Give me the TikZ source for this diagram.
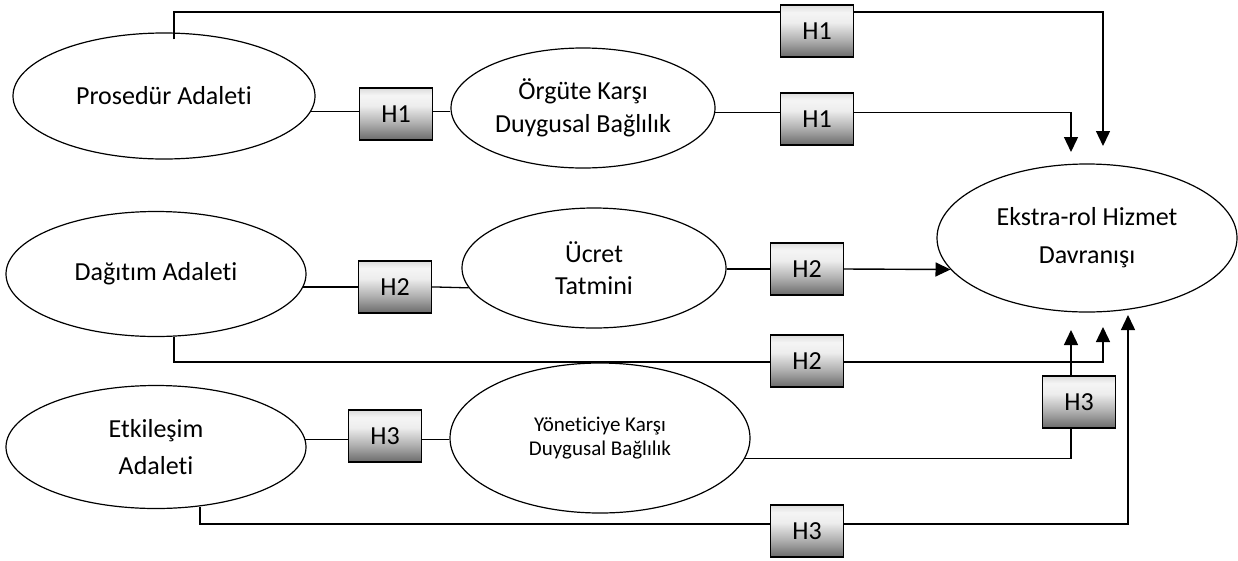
\documentclass[tikz,border=0pt]{standalone}
\usepackage{fontspec}
\setmainfont{Carlito}[Ligatures=NoCommon]
\usetikzlibrary{shapes.geometric,arrows.meta}
\pgfdeclareverticalshading{hshade}{100bp}{color(0bp)=(black!58); color(25bp)=(black!58); color(42bp)=(black!30); color(58bp)=(black!7); color(68bp)=(black!4); color(75bp)=(black!14); color(100bp)=(black!14)}
\begin{document}
\begin{tikzpicture}[x=1pt,y=-1pt,
  ell/.style={draw, ellipse, line width=1.2pt, inner sep=0pt, align=center, font=\fontsize{26}{33}\selectfont},
  hbox/.style={draw, line width=1.4pt, minimum width=73pt, minimum height=52pt, inner sep=0pt,
    shading=hshade, font=\fontsize{26}{30}\selectfont},
  conn/.style={line width=1.3pt},
  arr/.style={line width=1.4pt, -{Triangle[width=14pt,length=15pt]}}
]
\useasboundingbox (0,0) rectangle (1238,560);

% ellipses
\node[ell, minimum width=302pt, minimum height=126pt] (pros) at (164,96) {Prosedür Adaleti};
\node[ell, minimum width=264pt, minimum height=120pt] (org) at (583,108) {Örgüte Karşı\\Duygusal Bağlılık};
\node[ell, minimum width=300pt, minimum height=125pt] (dag) at (156,274) {Dağıtım Adaleti};
\node[ell, minimum width=264pt, minimum height=120pt, font=\fontsize{26}{32}\selectfont] (ucr) at (594,268) {Ücret\\Tatmini};
\node[ell, minimum width=300pt, minimum height=123pt, font=\fontsize{26}{37}\selectfont] (etk) at (156,447) {Etkileşim\\Adaleti};
\node[ell, minimum width=300pt, minimum height=150pt, font=\fontsize{21}{24}\selectfont] (yon) at (600,438) {Yöneticiye Karşı\\Duygusal Bağlılık};
\node[ell, minimum width=300pt, minimum height=148pt, font=\fontsize{26}{38}\selectfont] (eks) at (1087,238) {Ekstra-rol Hizmet\\Davranışı};

% boxes
\node[hbox] (h1a) at (817,31) {H1};
\node[hbox] (h1b) at (396,114) {H1};
\node[hbox] (h1c) at (817,119) {H1};
\node[hbox] (h2a) at (395,287) {H2};
\node[hbox] (h2b) at (807,269) {H2};
\node[hbox] (h2c) at (807,361) {H2};
\node[hbox] (h3a) at (385,436) {H3};
\node[hbox] (h3b) at (1079,402) {H3};
\node[hbox] (h3c) at (807,531) {H3};

% corner coordinates
\coordinate (a1) at (174,12);
\coordinate (a2) at (1103,12);
\coordinate (a3) at (1103,146);
\coordinate (b2) at (1071,152);
\coordinate (c1) at (174,362);
\coordinate (c2) at (1103,362);
\coordinate (c3) at (1103,327);
\coordinate (d1) at (1071,458);
\coordinate (d2) at (1071,330);
\coordinate (e1) at (200,524);
\coordinate (e2) at (1128,524);
\coordinate (e3) at (1128,315);

% top H1 path
\draw[conn] ([xshift=10pt,yshift=-7pt]pros.north) -- (a1) -- (h1a.west |- a1);
\draw[arr] (h1a.east |- a1) -- (a2) -- (a3);

% row 1
\draw[conn] (pros.-6) -- (h1b.west |- pros.-6);
\draw[conn] (h1b.east |- pros.-6) -- (org.west |- pros.-6);
\draw[conn] (org.-2) -- (h1c.west |- org.-2);
\draw[arr] (h1c.east |- org.-2) -| (b2);

% row 2
\draw[conn] (dag.-5) -- (h2a.west |- dag.-5);
\draw[conn] (h2a.east |- dag.-5) -- (ucr.189);
\draw[conn] (ucr.east |- h2b.west) -- (h2b.west);
\draw[arr] (h2b.east) -- (eks.193);
\draw[conn] ([xshift=18pt]dag.south) -- (c1) -- (h2c.west |- c1);
\draw[arr] (h2c.east |- c1) -- (c2) -- (c3);

% row 3
\draw[conn] (etk.3) -- (h3a.west |- etk.3);
\draw[conn] (h3a.east |- etk.3) -- (yon.west |- etk.3);
\draw[conn] (yon.-8) -- (d1 |- yon.-8) -- (h3b.south -| d1);
\draw[arr] (h3b.north -| d1) -- (d2);
\draw[conn] ([xshift=44pt,yshift=2pt]etk.south) -- (e1) -- (h3c.west |- e1);
\draw[arr] (h3c.east |- e1) -- (e2) -- (e3);
\end{tikzpicture}
\end{document}
